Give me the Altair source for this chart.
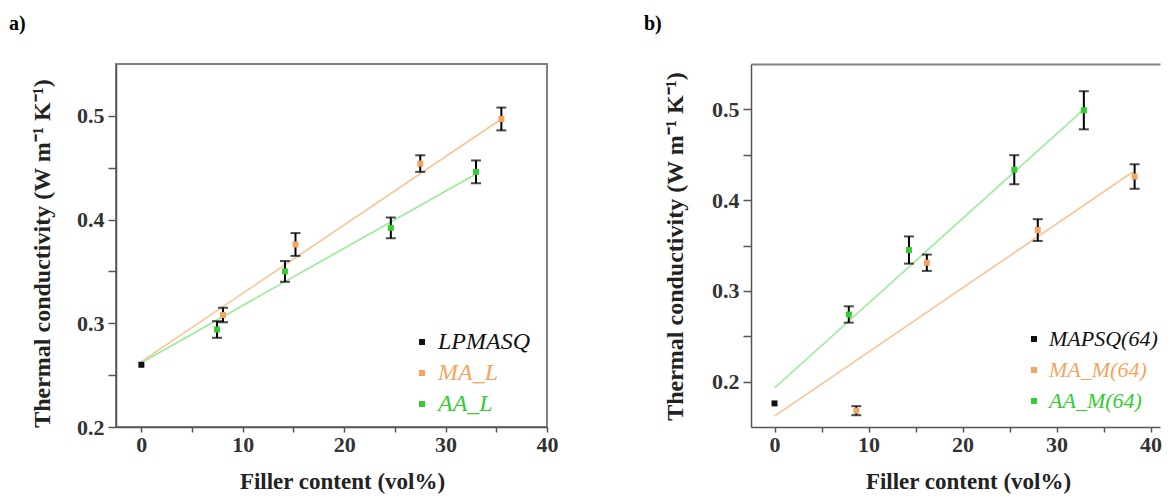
import altair as alt
import pandas as pd

FONT = "Liberation Serif"

# ---------------- panel a ----------------
a_names = ["LPMASQ", "MA_L", "AA_L"]
a_base_x = [0.0]
a_base_y = [0.260]
a_ma_x = [8.05, 15.2, 27.5, 35.5]
a_ma_y = [0.308, 0.376, 0.454, 0.497]
a_ma_err = [0.007, 0.011, 0.008, 0.011]
a_aa_x = [7.46, 14.16, 24.6, 33.0]
a_aa_y = [0.294, 0.350, 0.392, 0.446]
a_aa_err = [0.008, 0.010, 0.010, 0.011]
a_ma_fit_x = [0.0, 35.5]
a_ma_fit_y = [0.263, 0.497]
a_aa_fit_x = [0.0, 33.0]
a_aa_fit_y = [0.262, 0.444]

# ---------------- panel b ----------------
b_names = ["MAPSQ(64)", "MA_M(64)", "AA_M(64)"]
b_base_x = [0.0]
b_base_y = [0.176]
b_ma_x = [8.7, 16.2, 28.0, 38.3]
b_ma_y = [0.168, 0.331, 0.367, 0.426]
b_ma_err = [0.005, 0.009, 0.012, 0.0135]
b_aa_x = [7.9, 14.3, 25.5, 32.9]
b_aa_y = [0.274, 0.345, 0.4335, 0.499]
b_aa_err = [0.009, 0.015, 0.016, 0.021]
b_ma_fit_x = [0.0, 38.1]
b_ma_fit_y = [0.162, 0.431]
b_aa_fit_x = [0.0, 32.9]
b_aa_fit_y = [0.193, 0.500]

x_ticks = [0, 5, 10, 15, 20, 25, 30, 35, 40]
y_ticks = [0.2, 0.25, 0.3, 0.35, 0.4, 0.45, 0.5]

marker_colors = ["#111111", "#F4A460", "#33CC33"]
line_colors = ["#F8C495", "#9BEA9B"]

Y_TITLE = "Thermal conductivity (W m⁻¹ K⁻¹)"
X_TITLE = "Filler content (vol%)"
FRAME = "#808080"


def panel(tag, names, base, ma, aa, ma_fit, aa_fit, xdom, ydom, width,
          legxy, legfont, ytitle_xy, xtitle_x, open_right):
    rows = []
    for x, y in zip(base[0], base[1]):
        rows.append({"series": names[0], "x": x, "y": y, "lo": y, "hi": y, "err": 0.0})
    for nm, (xs, ys, es) in ((names[1], ma), (names[2], aa)):
        for x, y, e in zip(xs, ys, es):
            rows.append({"series": nm, "x": x, "y": y, "lo": y - e, "hi": y + e, "err": e})
    pts = pd.DataFrame(rows)

    frows = []
    for nm, (fx, fy) in ((names[1], ma_fit), (names[2], aa_fit)):
        for x, y in zip(fx, fy):
            frows.append({"series": nm, "x": x, "y": y})
    fit = pd.DataFrame(frows)

    xscale = alt.Scale(domain=xdom, nice=False, zero=False)
    xenc = alt.X(
        "x:Q",
        scale=xscale,
        axis=alt.Axis(
            values=x_ticks,
            labelExpr="datum.value % 10 == 0 ? datum.label : ''",
            title=X_TITLE, titleX=xtitle_x, titleY=61, titleBaseline="alphabetic",
            titleFont=FONT, titleFontSize=23, titleFontWeight="bold", titleColor="#222",
            labelFont=FONT, labelFontSize=22, labelFontWeight="bold", labelColor="#333",
            tickSize=5, labelPadding=2, grid=False, labelFlush=False, labelOverlap=False,
            domainColor="#555", domainWidth=1.5, tickColor="#555", tickWidth=1.5,
        ),
    )

    def yenc(field):
        return alt.Y(
            f"{field}:Q",
            scale=alt.Scale(domain=ydom, nice=False, zero=False),
            axis=alt.Axis(
                values=y_ticks,
                labelExpr="abs(datum.value*10 - round(datum.value*10)) < 0.001 ? format(datum.value, '.1f') : ''",
                title=Y_TITLE, titleX=ytitle_xy[0], titleY=ytitle_xy[1],
                titleFont=FONT, titleFontSize=24, titleFontWeight="bold", titleColor="#222",
                labelFont=FONT, labelFontSize=22, labelFontWeight="bold", labelColor="#333",
                tickSize=8, labelPadding=4, grid=False, labelOverlap=False,
                domainColor="#555", domainWidth=1.5, tickColor="#555", tickWidth=1.5,
            ),
        )

    color_expr = (
        f"datum.label == '{names[1]}' ? '{marker_colors[1]}' : "
        f"datum.label == '{names[2]}' ? '{marker_colors[2]}' : '{marker_colors[0]}'"
    )
    color = alt.Color(
        "series:N",
        scale=alt.Scale(domain=names, range=marker_colors),
        legend=alt.Legend(
            orient="none", legendX=legxy[0], legendY=legxy[1], title=None,
            symbolType="square", symbolSize=36, symbolStrokeWidth=0,
            labelFont=FONT, labelFontStyle="italic", labelFontSize=legfont,
            labelColor=alt.ExprRef(expr=color_expr),
            rowPadding=7 + (24 - legfont), labelOffset=4, padding=0, labelLimit=400,
        ),
    )

    lines = alt.Chart(fit).mark_line(strokeWidth=1.6).encode(
        x=xenc, y=yenc("y"),
        stroke=alt.Stroke("series:N", scale=alt.Scale(domain=names[1:], range=line_colors), legend=None),
    )
    bars = alt.Chart(pts).transform_filter("datum.err > 0").mark_errorbar(
        ticks=True, color="black", thickness=2, size=10
    ).encode(x=xenc, y=yenc("lo"), y2="hi:Q")
    points = alt.Chart(pts).mark_point(shape="square", filled=True, size=36, opacity=1).encode(
        x=xenc, y=yenc("y"), color=color,
    )
    label = alt.Chart(pd.DataFrame({"t": [tag]})).mark_text(
        align="left", baseline="middle", font=FONT, fontSize=20, fontWeight="bold", color="black"
    ).encode(text="t:N", x=alt.value(-107), y=alt.value(-40))

    inner = alt.layer(lines, bars, points, label)
    if not open_right:
        return inner.properties(width=width, height=363)

    # frame without a right edge: top border drawn as a top axis domain line
    top = alt.Chart(fit).mark_line(opacity=0).encode(
        x=alt.X("x:Q", scale=xscale,
                axis=alt.Axis(orient="top", labels=False, ticks=False, title=None, grid=False,
                              domainColor=FRAME, domainWidth=2)),
        y=yenc("y"),
    )
    return alt.layer(inner, top).resolve_axis(x="independent").properties(
        width=width, height=363, view=alt.ViewConfig(stroke="transparent")
    )


pa = panel("a)", a_names, (a_base_x, a_base_y), (a_ma_x, a_ma_y, a_ma_err),
           (a_aa_x, a_aa_y, a_aa_err), (a_ma_fit_x, a_ma_fit_y), (a_aa_fit_x, a_aa_fit_y),
           [-2.5, 40], [0.2, 0.55], 431, (294, 266), 24, (-62, 189), 226, False)
pb = panel("b)", b_names, (b_base_x, b_base_y), (b_ma_x, b_ma_y, b_ma_err),
           (b_aa_x, b_aa_y, b_aa_err), (b_ma_fit_x, b_ma_fit_y), (b_aa_fit_x, b_aa_fit_y),
           [-2.5, 41], [0.15, 0.55], 409, (272, 264), 22, (-64, 182), 217, True)

chart = alt.hconcat(pa, pb, spacing=204, bounds="flush").resolve_scale(
    color="independent", stroke="independent", x="independent", y="independent"
).resolve_legend(color="independent").properties(
    padding={"left": 0, "top": 5, "right": 0, "bottom": 0}
).configure_view(stroke=FRAME, strokeWidth=2)

chart.save("out.html", embed_options={"renderer": "svg", "actions": False})
